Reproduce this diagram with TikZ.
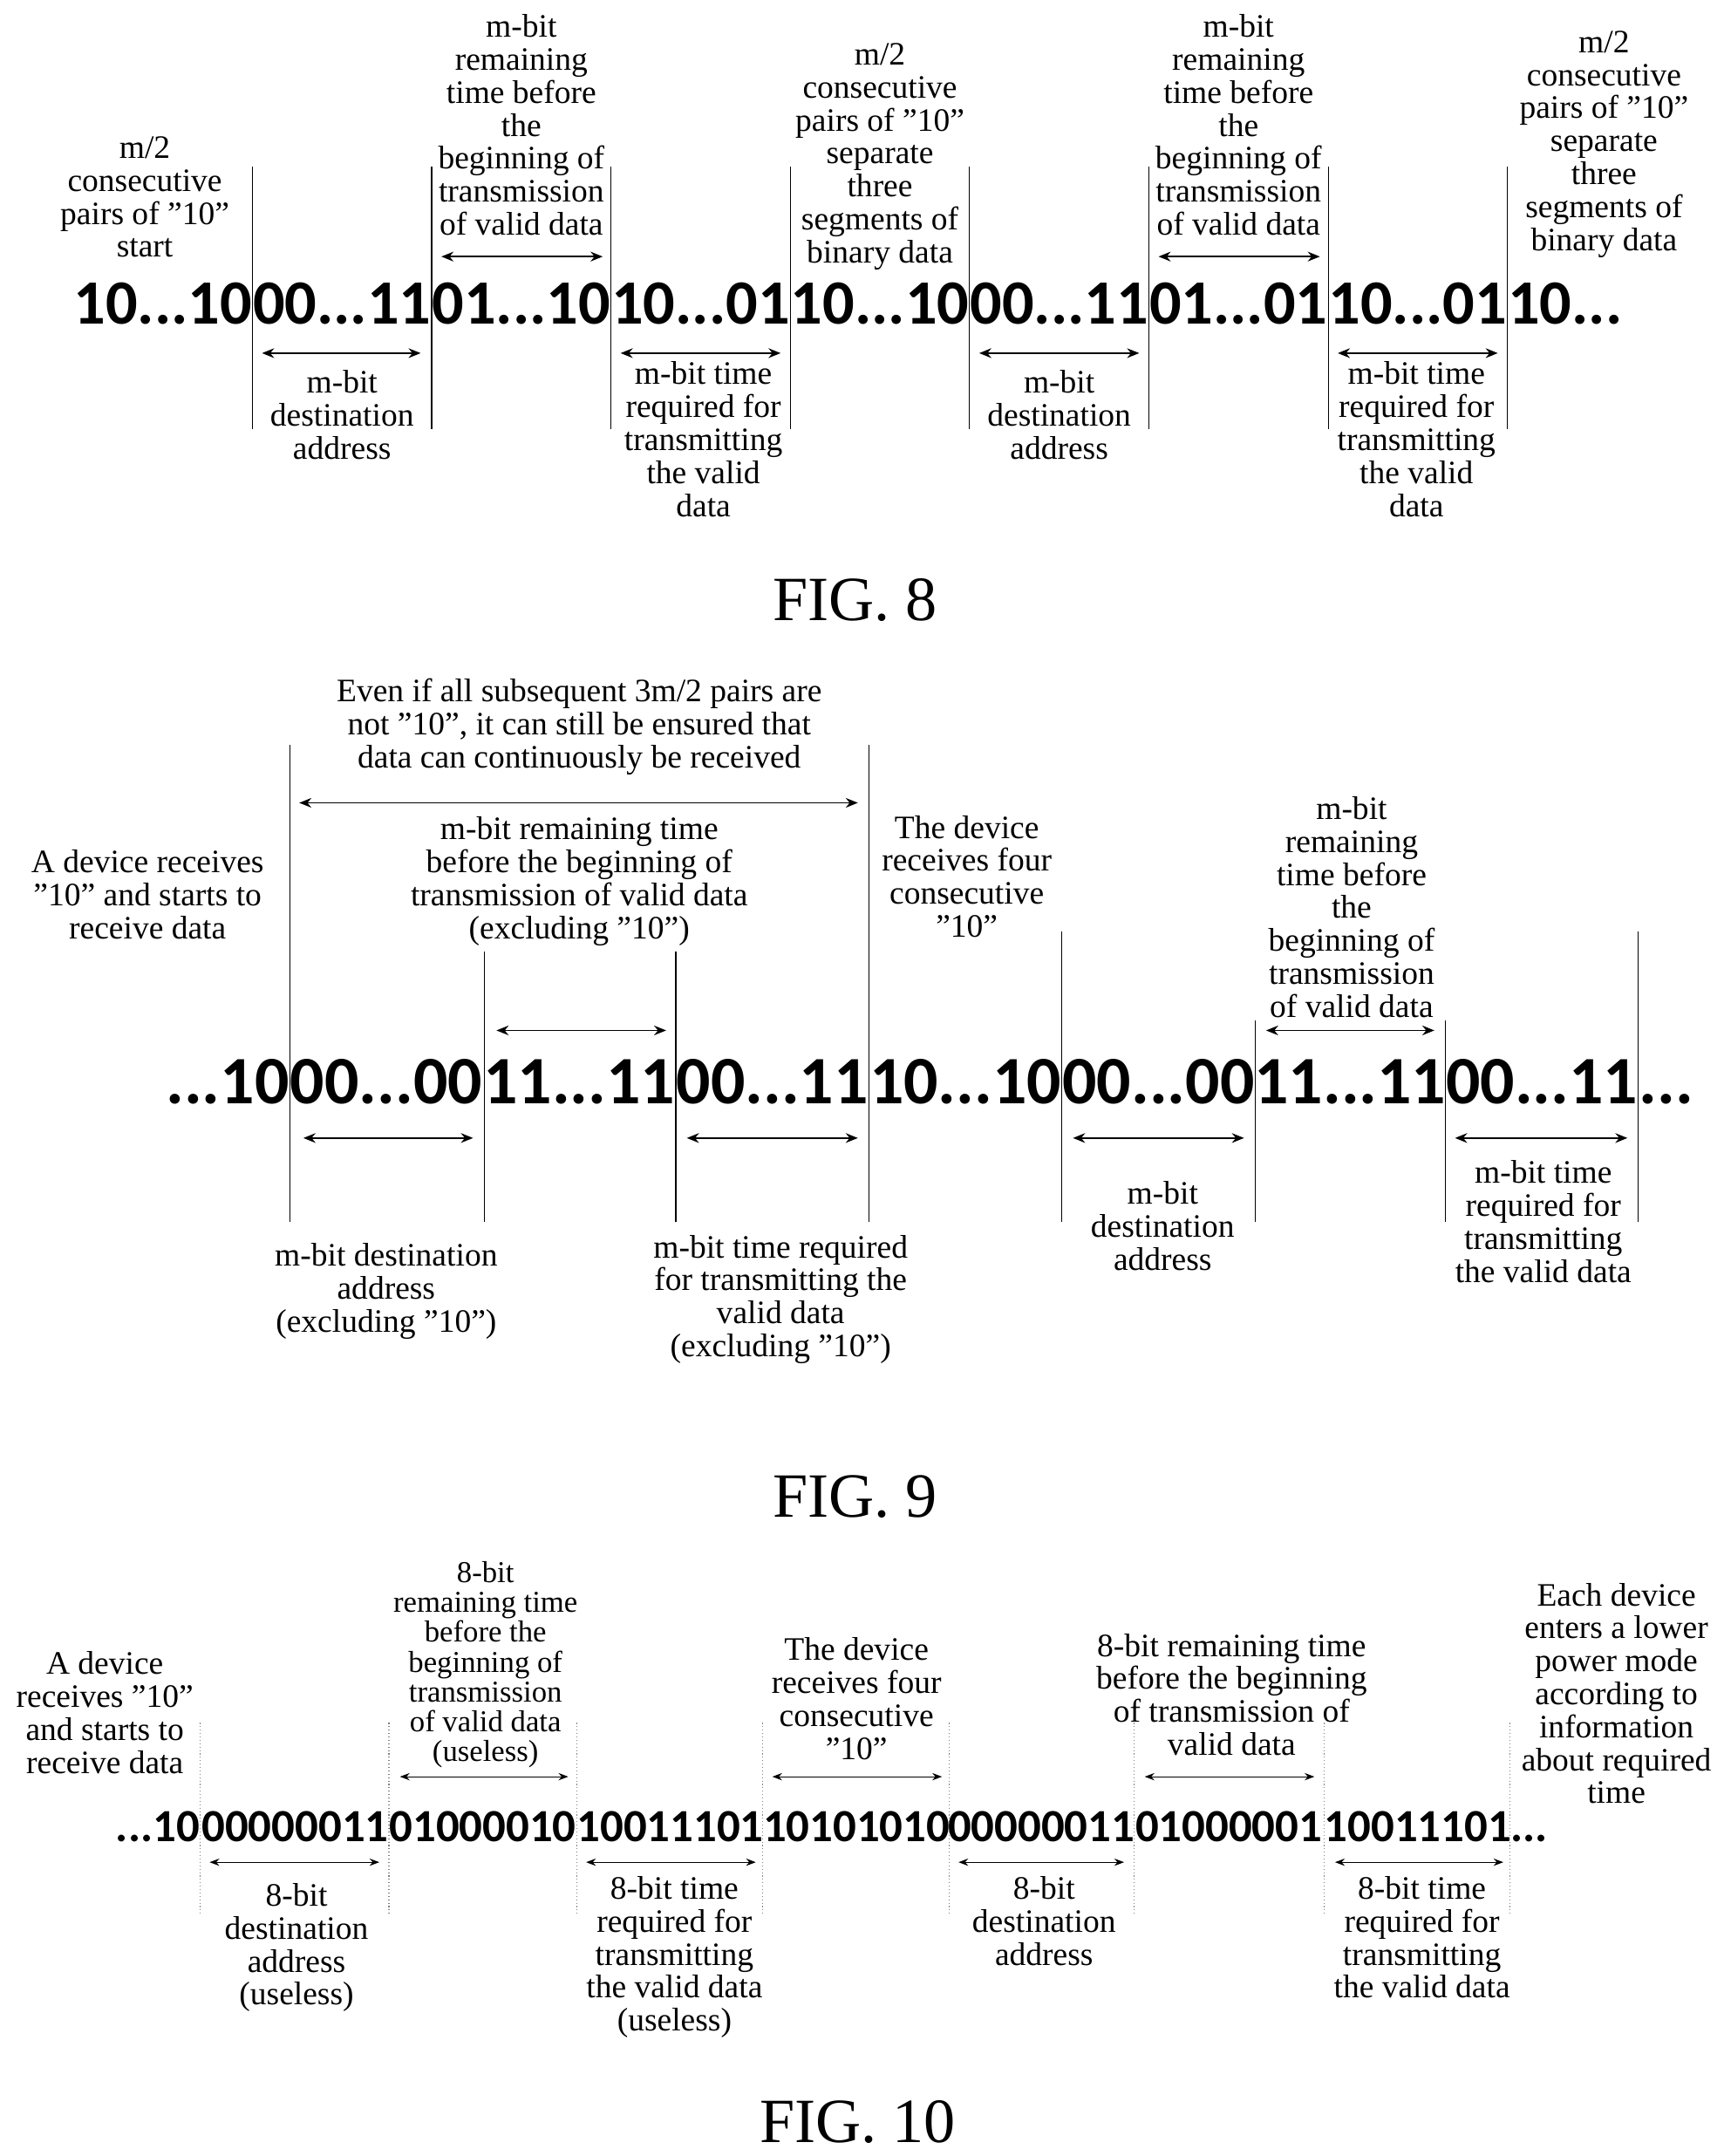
\documentclass[tikz,border=0pt]{standalone}
\usepackage{fontspec}
\setmainfont{Liberation Serif}
\newfontfamily\bitfont{Carlito}
\usetikzlibrary{arrows.meta}
\newcommand\dd{...}
\tikzset{
  lbl/.style={align=center,inner sep=0pt,font=\fontsize{13.5}{13.6}\selectfont},
  lbls/.style={align=center,inner sep=0pt,font=\fontsize{12.5}{12.3}\selectfont},
  bitsA/.style={inner sep=0pt,anchor=base,font=\bitfont\bfseries\fontsize{26}{26}\selectfont},
  bitsB/.style={inner sep=0pt,anchor=base,font=\bitfont\bfseries\fontsize{28}{28}\selectfont},
  bitsC/.style={inner sep=0pt,anchor=base,font=\bitfont\bfseries\fontsize{19}{19}\selectfont},
  sepline/.style={thin},
  bitspan/.style={{Stealth[length=5pt,width=4pt]}-{Stealth[length=5pt,width=4pt]},semithick},
  bitspanC/.style={{Stealth[length=4pt,width=3pt]}-{Stealth[length=4pt,width=3pt]},thin},
  figcap/.style={inner sep=0pt,font=\fontsize{26}{26}\selectfont}
}
\begin{document}
\begin{tikzpicture}[x=0.02cm,y=-0.02cm]
\useasboundingbox[fill=white] (0,0) rectangle (1250,1563);

% ---------- FIG. 8 ----------
\foreach \x in {183,313,443,573,703,833,963,1093}
  \draw[sepline] (\x,121) -- (\x,311);
\node[bitsA,anchor=base east] (b80) at (183,235) {10...10};
\foreach \x/\t [count=\i] in {248/00\dd11,378/01\dd10,508/10\dd01,638/10\dd10,768/00\dd11,898/01\dd01,1028/10\dd01}
  \node[bitsA] (b8\i) at (\x,235) {\t};
\node[bitsA,anchor=base west] (b88) at (1093,235) {10...};
% spans below
\foreach \a/\b in {190/305,450/566,710/826,970/1086}
  \draw[bitspan] (\a,256) -- (\b,256);
% spans above
\foreach \a/\b in {320/437,840/957}
  \draw[bitspan] (\a,186) -- (\b,186);
\node[lbl,anchor=south] (t81) at (105,187) {m/2\\consecutive\\pairs of "10"\\start};
\node[lbl,anchor=south] (t82) at (378,171) {m-bit\\remaining\\time before\\the\\beginning of\\transmission\\of valid data};
\node[lbl,anchor=south] (t83) at (638,196) {m/2\\consecutive\\pairs of "10"\\separate\\three\\segments of\\binary data};
\node[lbl,anchor=south] (t84) at (898,171) {m-bit\\remaining\\time before\\the\\beginning of\\transmission\\of valid data};
\node[lbl,anchor=south] (t85) at (1163,187) {m/2\\consecutive\\pairs of "10"\\separate\\three\\segments of\\binary data};
\node[lbl,anchor=north] (u81) at (248,268) {m-bit\\destination\\address};
\node[lbl,anchor=north] (u82) at (510,262) {m-bit time\\required for\\transmitting\\the valid\\data};
\node[lbl,anchor=north] (u83) at (768,268) {m-bit\\destination\\address};
\node[lbl,anchor=north] (u84) at (1027,262) {m-bit time\\required for\\transmitting\\the valid\\data};
\node[figcap] (fig8) at (620,435) {FIG. 8};

% ---------- FIG. 9 ----------
\foreach \x/\top in {210/540,351/690,490/690,630/540,770/675,910/740,1048/740,1188/675}
  \draw[sepline] (\x,\top) -- (\x,886);
\node[bitsB,anchor=base east] (b90) at (210,800) {...10};
\foreach \x/\t [count=\i] in {280/00\dd00,420/11\dd11,560/00\dd11,700/10\dd10,840/00\dd00,979/11\dd11,1118/00\dd11}
  \node[bitsB] (b9\i) at (\x,800) {\t};
\node[bitsB,anchor=base west] (b98) at (1188,800) {...};
\draw[bitspan] (217,582) -- (622,582);
\foreach \a/\b in {360/483,918/1040}
  \draw[bitspan] (\a,747) -- (\b,747);
\foreach \a/\b in {220/343,498/622,778/902,1055/1180}
  \draw[bitspan] (\a,825) -- (\b,825);
\node[lbl,anchor=south] (t91) at (420,562) {Even if all subsequent 3m/2 pairs are\\not "10", it can still be ensured that\\data can continuously be received};
\node[lbl,anchor=south] (t92) at (420,686) {m-bit remaining time\\before the beginning of\\transmission of valid data\\(excluding "10")};
\node[lbl,anchor=south] (t93) at (107,681) {A device receives\\"10" and starts to\\receive data};
\node[lbl,anchor=south] (t94) at (701,680) {The device\\receives four\\consecutive\\"10"};
\node[lbl,anchor=south] (t95) at (980,738) {m-bit\\remaining\\time before\\the\\beginning of\\transmission\\of valid data};
\node[lbl,anchor=north] (u91) at (280,901) {m-bit destination\\address\\(excluding "10")};
\node[lbl,anchor=north] (u92) at (566,895) {m-bit time required\\for transmitting the\\valid data\\(excluding "10")};
\node[lbl,anchor=north] (u93) at (843,856) {m-bit\\destination\\address};
\node[lbl,anchor=north] (u94) at (1119,841) {m-bit time\\required for\\transmitting\\the valid data};
\node[figcap] (fig9) at (620,1085) {FIG. 9};

% ---------- FIG. 10 ----------
\foreach \x in {145,282,418,553,688,822,960,1095}
  \draw[sepline,gray,densely dotted] (\x,1249) -- (\x,1388);
\node[bitsC,anchor=base east] (b100) at (145,1335) {...10};
\foreach \x/\t [count=\i] in {214/00000011,350/01000010,486/10011101,621/10101010,755/00000011,891/01000001,1028/10011101}
  \node[bitsC] (b10\i) at (\x,1335) {\t};
\node[bitsC,anchor=base west] (b108) at (1095,1335) {...};
\foreach \a/\b in {290/412,560/683,830/953}
  \draw[bitspanC] (\a,1288) -- (\b,1288);
\foreach \a/\b in {152/275,425/548,695/815,968/1090}
  \draw[bitspanC] (\a,1350) -- (\b,1350);
\node[lbl,anchor=south] (t101) at (76,1286) {A device\\receives "10"\\and starts to\\receive data};
\node[lbls,anchor=south] (t102) at (352,1282) {8-bit\\remaining time\\before the\\beginning of\\transmission\\of valid data\\(useless)};
\node[lbl,anchor=south] (t103) at (621,1276) {The device\\receives four\\consecutive\\"10"};
\node[lbl,anchor=south] (t104) at (893,1273) {8-bit remaining time\\before the beginning\\of transmission of\\valid data};
\node[lbl,anchor=south] (t105) at (1172,1308) {Each device\\enters a lower\\power mode\\according to\\information\\about required\\time};
\node[lbl,anchor=north] (u101) at (215,1365) {8-bit\\destination\\address\\(useless)};
\node[lbl,anchor=north] (u102) at (489,1360) {8-bit time\\required for\\transmitting\\the valid data\\(useless)};
\node[lbl,anchor=north] (u103) at (757,1360) {8-bit\\destination\\address};
\node[lbl,anchor=north] (u104) at (1031,1360) {8-bit time\\required for\\transmitting\\the valid data};
\node[figcap] (fig10) at (622,1538) {FIG. 10};
\end{tikzpicture}
\end{document}
